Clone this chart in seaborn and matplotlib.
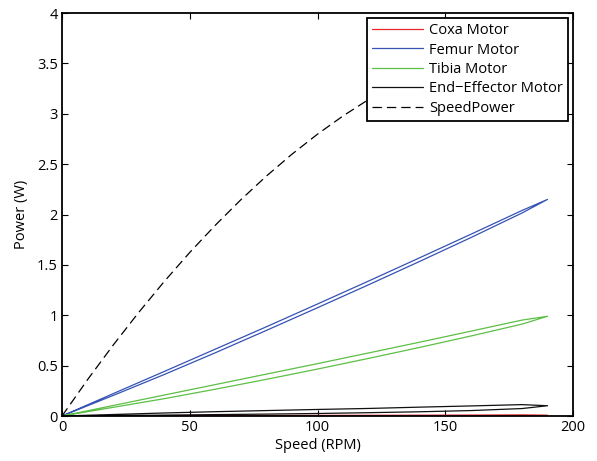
import numpy as np
import pandas as pd
import matplotlib
matplotlib.use('Agg')
import matplotlib.pyplot as plt
import seaborn as sns

# speed grid (RPM) for the motor loops
speed = [0, 20, 40, 60, 80, 100, 120, 140, 160, 180, 190]

# each motor traces a thin loop: rising branch and returning branch
coxa_up = [0, 0.002, 0.003, 0.004, 0.005, 0.006, 0.007, 0.008, 0.009, 0.010, 0.006]
coxa_down = [0, 0.001, 0.001, 0.002, 0.002, 0.003, 0.003, 0.004, 0.004, 0.005, 0.006]

femur_up = [0, 0.222, 0.442, 0.664, 0.886, 1.112, 1.340, 1.571, 1.804, 2.040, 2.150]
femur_down = [0, 0.204, 0.412, 0.628, 0.850, 1.075, 1.303, 1.535, 1.771, 2.015, 2.150]

tibia_up = [0, 0.104, 0.208, 0.312, 0.416, 0.520, 0.626, 0.733, 0.842, 0.952, 0.990]
tibia_down = [0, 0.086, 0.172, 0.266, 0.364, 0.466, 0.572, 0.681, 0.794, 0.912, 0.990]

end_up = [0, 0.015, 0.030, 0.043, 0.054, 0.065, 0.075, 0.088, 0.100, 0.113, 0.102]
end_down = [0, 0.004, 0.009, 0.014, 0.019, 0.025, 0.033, 0.042, 0.054, 0.074, 0.102]

# speed-power curve
sp_speed = [0, 10, 20, 30, 40, 50, 60, 70, 80, 90, 100, 110, 120, 130, 140, 150, 160, 170, 180, 190]
sp_power = [0, 0.361, 0.703, 1.028, 1.335, 1.624, 1.894, 2.147, 2.382, 2.599, 2.798,
            2.979, 3.142, 3.287, 3.414, 3.523, 3.615, 3.688, 3.744, 3.780]

sns.set_style('ticks')
plt.rcParams['font.family'] = ['Open Sans', 'DejaVu Sans']
plt.rcParams['font.size'] = 10.5
for k in ['text.color', 'axes.labelcolor', 'xtick.color', 'ytick.color']:
    plt.rcParams[k] = 'black'

fig = plt.figure(figsize=(5.97, 4.61), dpi=100)
ax = fig.add_axes([0.1039, 0.0976, 0.8561, 0.8742])


def loop(up, down):
    x = speed + speed[::-1]
    y = up + down[::-1]
    return pd.DataFrame({'speed': x, 'power': y})


motors = [('Coxa Motor', coxa_up, coxa_down, '#e8262b'),
          ('Femur Motor', femur_up, femur_down, '#3552b4'),
          ('Tibia Motor', tibia_up, tibia_down, '#5cbf45'),
          ('End\u2212Effector Motor', end_up, end_down, '#111111')]

for name, up, down, col in motors:
    d = loop(up, down)
    sns.lineplot(data=d, x='speed', y='power', sort=False, estimator=None,
                 color=col, lw=0.9, label=name, ax=ax)

sp = pd.DataFrame({'speed': sp_speed, 'power': sp_power})
sns.lineplot(data=sp, x='speed', y='power', sort=False, estimator=None,
             color='black', lw=0.9, ls=(0, (7.5, 4)), label='SpeedPower', ax=ax)

ax.set_xlim(0, 200)
ax.set_ylim(0, 4)
ax.set_xticks([0, 50, 100, 150, 200])
ax.set_yticks([0, 0.5, 1, 1.5, 2, 2.5, 3, 3.5, 4])
ax.set_yticklabels(['0', '0.5', '1', '1.5', '2', '2.5', '3', '3.5', '4'])
ax.set_xlabel('Speed (RPM)', fontsize=10.5, labelpad=2)
ax.set_ylabel('Power (W)', fontsize=10.5, labelpad=6)
ax.tick_params(direction='in', length=4, width=0.8, top=True, right=True,
               labelsize=10.5, pad=3)
for s in ax.spines.values():
    s.set_visible(True)
    s.set_linewidth(1.3)
    s.set_color('black')

leg = ax.legend(loc='upper right', frameon=True, fancybox=False, framealpha=1,
                edgecolor='black', fontsize=10.5, handlelength=3.5,
                handletextpad=0.4, labelspacing=0.3, borderpad=0.35,
                borderaxespad=0.35)
leg.get_frame().set_linewidth(1.3)

fig.savefig('out.png', dpi=100)
